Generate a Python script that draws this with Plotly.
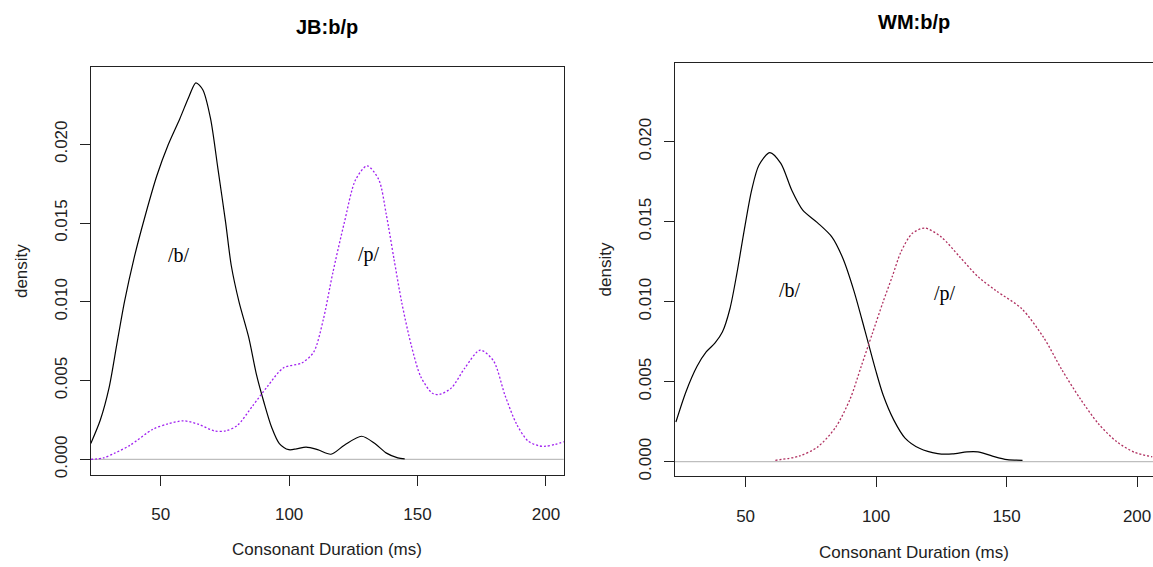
import plotly.graph_objects as go

W, H = 1153, 567

# ---------------- data ----------------
jb_b_x = [22.8, 26.5, 29.9, 32.9, 35.9, 39.6, 44.0, 48.5, 53.0, 57.5, 61.2, 63.7, 66.4, 69.4,
          72.3, 75.3, 77.5, 80.5, 84.3, 87.2, 90.2, 93.2, 96.2, 99.9, 102.9, 106.6, 111.1,
          116.3, 121.5, 128.2, 133.4, 137.9, 142.3, 145.0]
jb_b_y = [0.00101, 0.0025, 0.00454, 0.00728, 0.0100, 0.01275, 0.01548, 0.0180, 0.0200, 0.02164,
          0.0231, 0.0239, 0.02346, 0.02164, 0.01844, 0.01503, 0.01229, 0.0100, 0.00773, 0.00545,
          0.00363, 0.00204, 0.00101, 0.00062, 0.00067, 0.00078, 0.00062, 0.00033, 0.0009,
          0.00147, 0.00101, 0.0004, 0.0001, 0.00003]

jb_p_x = [22.8, 27.7, 32.1, 38.1, 47.0, 53.0, 58.9, 64.9, 70.9, 75.3, 79.8, 85.8, 91.7, 97.7,
          105.1, 109.6, 113.3, 117.0, 121.5, 125.9, 130.4, 134.9, 137.9, 140.8, 143.8, 147.5,
          151.3, 155.8, 158.5, 163.2, 168.4, 174.4, 179.6, 184.0, 188.5, 193.0, 197.4, 200.0,
          203.5, 207.5]
jb_p_y = [0.0, 0.0001, 0.0004, 0.0009, 0.00192, 0.00226, 0.00245, 0.00222, 0.00181, 0.00181,
          0.00215, 0.0034, 0.00466, 0.0058, 0.00614, 0.00682, 0.00887, 0.01183, 0.01503, 0.01776,
          0.01863, 0.01776, 0.01548, 0.01275, 0.0100, 0.00728, 0.00523, 0.0042, 0.00412, 0.00454,
          0.0058, 0.00694, 0.00625, 0.00409, 0.00226, 0.00117, 0.00086, 0.00084, 0.00095, 0.00115]

wm_b_x = [23.3, 27.2, 31.4, 34.9, 38.3, 41.1, 44.0, 46.7, 49.5, 52.3, 55.1, 59.3, 63.5, 67.7,
          71.9, 77.5, 83.1, 87.3, 91.5, 95.7, 99.8, 102.7, 106.8, 111.1, 116.6, 123.6, 129.2,
          134.8, 139.0, 144.6, 150.2, 156.1]
wm_b_y = [0.00248, 0.00439, 0.00596, 0.00686, 0.00742, 0.0081, 0.00956, 0.0118, 0.01449, 0.01696,
          0.01853, 0.01932, 0.01864, 0.01696, 0.01572, 0.01494, 0.01404, 0.0127, 0.01068, 0.00821,
          0.00574, 0.00417, 0.0026, 0.00148, 0.00084, 0.00051, 0.00049, 0.00062, 0.00062,
          0.00035, 0.00013, 0.00009]

wm_p_x = [61.4, 70.5, 77.5, 84.5, 90.1, 94.3, 98.5, 102.7, 106.2, 109.6, 113.9, 118.7, 125.0,
          132.0, 139.0, 146.0, 155.8, 164.2, 171.2, 178.2, 185.2, 192.2, 199.1, 205.8]
wm_p_y = [0.00009, 0.00035, 0.00091, 0.00215, 0.00394, 0.00596, 0.00798, 0.0100, 0.01157,
          0.01314, 0.01427, 0.0146, 0.01404, 0.01281, 0.01157, 0.01068, 0.00956, 0.00776,
          0.00574, 0.00394, 0.00237, 0.00125, 0.00058, 0.00031]

x_tick_vals = [50, 100, 150, 200]
y_tick_vals = [0.0, 0.005, 0.010, 0.015, 0.020]
y_tick_text = ["0.000", "0.005", "0.010", "0.015", "0.020"]

panel_titles = ["JB:b/p", "WM:b/p"]
x_title = "Consonant Duration (ms)"
y_title = "density"
seg_labels = ["/b/", "/p/"]
jb_label_x = [57.2, 131.0]
jb_label_y = [0.0130, 0.0130]
wm_label_x = [67.0, 126.4]
wm_label_y = [0.0107, 0.0105]

# ---------------- layout geometry (pixels) ----------------
def px_x(p):
    return p / W

def px_y(p):
    return 1 - p / H

L1, R1, T1, B1 = 90.7, 563.7, 67.7, 478.3
L2, R2, T2, B2 = 675.0, 1153.0, 63.7, 479.7

SANS = "Liberation Sans, Arial, sans-serif"
SERIF = "Liberation Serif, Times New Roman, serif"
AX = "#222222"

fig = go.Figure()

fig.add_trace(go.Scatter(x=jb_b_x, y=jb_b_y, mode="lines", xaxis="x", yaxis="y",
                         line=dict(color="black", width=1.2, shape="spline", smoothing=0.8)))
fig.add_trace(go.Scatter(x=jb_p_x, y=jb_p_y, mode="lines", xaxis="x", yaxis="y",
                         line=dict(color="#A020F0", width=1.3, dash="2px,2px", shape="spline", smoothing=0.8)))
fig.add_trace(go.Scatter(x=wm_b_x, y=wm_b_y, mode="lines", xaxis="x2", yaxis="y2",
                         line=dict(color="black", width=1.2, shape="spline", smoothing=0.8)))
fig.add_trace(go.Scatter(x=wm_p_x, y=wm_p_y, mode="lines", xaxis="x2", yaxis="y2",
                         line=dict(color="#B03060", width=1.3, dash="2px,2px", shape="spline", smoothing=0.8)))

common_x = dict(tickmode="array", tickvals=x_tick_vals, ticks="outside", ticklen=10, tickwidth=1,
                tickcolor=AX, showline=True, linecolor=AX, linewidth=1.3, mirror=True,
                showgrid=False, zeroline=False, ticklabelstandoff=14,
                tickfont=dict(family=SANS, size=17, color=AX))
common_y = dict(tickmode="array", tickvals=y_tick_vals, ticktext=y_tick_text, ticks="outside",
                ticklen=10, tickwidth=1, tickcolor=AX, showline=True, linecolor=AX, linewidth=1.3,
                showgrid=False, zeroline=False, tickangle=-90, ticklabelstandoff=6,
                tickfont=dict(family=SANS, size=17, color=AX))

fig.update_layout(
    width=W, height=H, margin=dict(l=0, r=0, t=0, b=0),
    paper_bgcolor="white", plot_bgcolor="white", showlegend=False,
    xaxis=dict(common_x, domain=[px_x(L1), px_x(R1)], range=[22.76, 206.9], anchor="y"),
    yaxis=dict(common_y, domain=[px_y(B1), px_y(T1)], range=[-0.000983, 0.02489], anchor="x",
               mirror=True),
    xaxis2=dict(common_x, domain=[px_x(L2), 1.0], range=[22.95, 206.1], anchor="y2"),
    yaxis2=dict(common_y, domain=[px_y(B2), px_y(T2)], range=[-0.000912, 0.0249], anchor="x2",
                mirror=False),
)

# zero reference lines
for xr, yr in [("x domain", "y"), ("x2 domain", "y2")]:
    fig.add_shape(type="line", xref=xr, yref=yr, x0=0, x1=1, y0=0, y1=0,
                  line=dict(color="#BEBEBE", width=1.3), layer="below")

ann = []
# panel titles
ann.append(dict(text="<b>%s</b>" % panel_titles[0], x=px_x(327), y=px_y(27), xref="paper", yref="paper",
                showarrow=False, font=dict(family=SANS, size=20, color="black"),
                xanchor="center", yanchor="middle"))
ann.append(dict(text="<b>%s</b>" % panel_titles[1], x=px_x(914), y=px_y(22.4), xref="paper", yref="paper",
                showarrow=False, font=dict(family=SANS, size=20, color="black"),
                xanchor="center", yanchor="middle"))
# axis titles
ann.append(dict(text=x_title, x=px_x(327), y=px_y(553), xref="paper", yref="paper", showarrow=False,
                font=dict(family=SANS, size=17, color=AX), xanchor="center", yanchor="middle"))
ann.append(dict(text=x_title, x=px_x(914), y=px_y(556), xref="paper", yref="paper", showarrow=False,
                font=dict(family=SANS, size=17, color=AX), xanchor="center", yanchor="middle"))
ann.append(dict(text=y_title, x=px_x(21), y=px_y((T1 + B1) / 2), xref="paper", yref="paper",
                showarrow=False, textangle=-90, font=dict(family=SANS, size=17, color=AX),
                xanchor="center", yanchor="middle"))
ann.append(dict(text=y_title, x=px_x(605.6), y=px_y((T2 + B2) / 2), xref="paper", yref="paper",
                showarrow=False, textangle=-90, font=dict(family=SANS, size=17, color=AX),
                xanchor="center", yanchor="middle"))
# segment labels
for i, t in enumerate(seg_labels):
    ann.append(dict(text=t, x=jb_label_x[i], y=jb_label_y[i], xref="x", yref="y", showarrow=False,
                    font=dict(family=SERIF, size=20, color="black"), xanchor="center", yanchor="middle"))
    ann.append(dict(text=t, x=wm_label_x[i], y=wm_label_y[i], xref="x2", yref="y2", showarrow=False,
                    font=dict(family=SERIF, size=20, color="black"), xanchor="center", yanchor="middle"))
fig.update_layout(annotations=ann)

fig.write_html("out.html")
